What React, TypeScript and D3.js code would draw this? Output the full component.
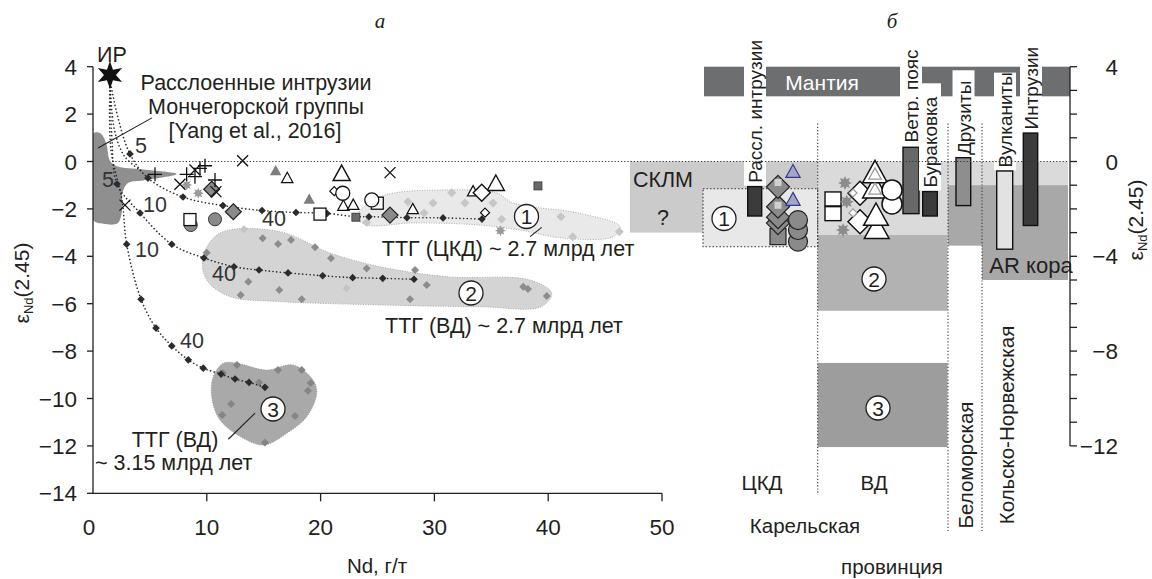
import React from 'react';
import * as d3 from 'd3';

// ---------- Left panel (а): Nd (ppm) vs eNd(2.45) ----------
const xTicks = [0, 10, 20, 30, 40, 50];
const yTicksLeft = [4, 2, 0, -2, -4, -6, -8, -10, -12, -14];
const yTicksRight = [4, 3, 2, 1, 0, -1, -2, -3, -4, -5, -6, -7, -8, -9, -10, -11, -12];
const yLabelsRight = [4, 0, -4, -8, -12];

const irStar = [1.49, 3.65];

const mixCurveA = [[1.49, 3.44], [2.2, 1.84], [3.25, 0.32], [4.83, -0.7], [7.91, -1.5], [11.42, -1.86], [14.85, -2.07], [17.84, -2.15], [20.56, -2.19], [23.1, -2.33], [24.25, -2.33], [27.59, -2.37], [30.76, -2.38], [34.18, -2.43]];
const mixCurveB = [[1.49, 3.44], [1.67, 0.91], [2.11, -0.95], [4.13, -2.17], [6.92, -3.49], [9.75, -4.07], [12.39, -4.44], [14.59, -4.58], [17.14, -4.7], [20.18, -4.82], [22.82, -4.9], [25.46, -4.93], [28.21, -4.97]];
const mixCurveC = [[1.49, 3.44], [1.58, 0.49], [2.55, -1.62], [2.96, -3.49], [4.22, -5.81], [5.54, -7.03], [6.92, -7.78], [8.37, -8.37], [9.69, -8.72], [11.25, -8.97], [12.48, -9.18], [13.71, -9.32], [15.11, -9.53]];
const mixCurveD = [[1.49, 3.44], [1.9, 1.3], [2.8, 0.2], [4.4, -0.45]];

const monchArea = [[0.03, 1.19], [0.65, 1.19], [1.15, 0.78], [1.5, 0.02], [2.1, -0.2], [4.42, -0.34], [7.35, -0.53], [4.42, -0.8], [3.1, -0.9], [2.6, -1.3], [2.55, -2.1], [2.15, -2.61], [0.91, -2.63], [0.03, -2.47]];
const ttg1Area = [[23.17, -2.33], [25.22, -1.49], [31.08, -1.2], [35.47, -1.33], [36.91, -1.75], [42.79, -2.19], [46.31, -2.75], [45.69, -3.17], [41.3, -3.23], [37.52, -2.89], [34.01, -2.68], [28.12, -2.59], [24.08, -2.68]];
const ttg2Area = [[9.67, -4.02], [11.16, -3.02], [16.43, -2.96], [20.83, -3.86], [25.22, -4.44], [31.08, -4.86], [38.4, -5.0], [40.31, -5.56], [39.37, -6.13], [34.09, -6.13], [25.22, -6.05], [16.43, -5.91], [12.04, -5.7], [9.99, -5.0]];
const ttg3Area = [[11.45, -8.51], [12.63, -8.51], [15.26, -8.8], [17.6, -8.59], [19.33, -9.22], [19.66, -9.78], [18.78, -10.77], [17.02, -11.47], [15.11, -11.96], [13.5, -11.75], [11.16, -10.91], [10.43, -9.92], [10.57, -9.08]];

const ttg1Pts = [[31.52, -1.32], [32.69, -1.75], [29.88, -1.75], [29.09, -2.17], [27.68, -1.7], [24.05, -2.57], [35.15, -1.75], [35.91, -2.44], [41.12, -2.33], [42.15, -3.17], [46.25, -2.96]];
const ttg2Pts = [[14.91, -3.24], [16.26, -3.48], [17.4, -3.31], [19.51, -3.62], [20.91, -4.08], [24.05, -4.51], [28.3, -4.58], [29.32, -5.21], [27.86, -5.81], [37.81, -5.28], [38.22, -5.38], [39.87, -5.68], [18.34, -5.81], [16.37, -5.42], [13.65, -5.07], [12.98, -5.63], [9.99, -3.85]];
const ttg2LightPts = [[13.27, -2.86], [22.29, -5.35]];
const ttg3Pts = [[11.42, -8.92], [12.65, -8.59], [14.59, -9.33], [16.26, -8.8], [18.34, -8.8], [19.13, -9.35], [18.89, -9.67], [12.13, -10.23], [11.36, -10.7], [17.75, -10.74], [15.11, -11.86]];

const plusPts = [[5.45, -0.54], [8.23, -0.54], [8.96, -0.64], [9.4, -0.29], [9.84, -0.18], [10.72, -0.78]];
const crossPts = [[13.15, 0.03], [7.64, -0.96], [8.96, -0.36], [10.8, -1.27], [2.81, -1.84], [26.1, -0.47]];
const gearPts = [[8.23, -0.99], [9.25, -1.34], [35.8, -2.92]];
const greyDiamondPts = [[10.43, -1.17], [12.33, -2.12], [26.1, -2.26]];
const greyCirclePts = [[10.72, -2.44], [8.59, -2.68]];
const greyTrianglePts = [[16.05, -0.4], [19.0, -1.6]];
const openTriSmallPts = [[17.07, -0.71], [22.0, -1.88], [22.87, -1.84], [28.1, -2.02], [33.4, -1.27]];
const openTriLargePts = [[21.85, -0.53], [35.4, -0.95]];
const openCirclePts = [[21.95, -1.34], [24.5, -1.62]];
const openSquarePts = [[8.52, -2.45], [19.95, -2.22], [24.98, -1.76]];
const openDiamondLargePts = [[34.16, -1.32]];
const openDiamondSmallPts = [[34.45, -2.16], [21.2, -1.25]];
const darkSquarePts = [[39.1, -1.03], [23.1, -2.35]];

// ---------- Right panel (б): provinces, eNd(2.45) ----------
// u = horizontal position inside panel б (0..440)
const rpBoxes = [
  { name: 'sclm', u0: 0, u1: 187.7, e0: 0, e1: -3.0 },
  { name: 'vdTop', u0: 187.7, u1: 438, e0: 0, e1: -3.1 },
  { name: 'ttg2', u0: 187.7, u1: 317.5, e0: -3.1, e1: -6.3 },
  { name: 'ttg3', u0: 187.7, u1: 317.5, e0: -8.5, e1: -12.05 },
  { name: 'arBel', u0: 318, u1: 352, e0: -1.0, e1: -3.55 },
  { name: 'arKola', u0: 352, u1: 438, e0: -1.0, e1: -5.0 },
  { name: 'ttg1', u0: 73, u1: 187.7, e0: -1.15, e1: -3.6 },
];
const mantle = { u0: 74, u1: 440, e0: 4, e1: 2.75 };
const rpBars = [
  { name: 'Рассл. интрузии', u0: 117.7, u1: 131.7, e0: -1.06, e1: -2.3, tone: 'dark', labelU: 125, labelE: -0.9, labelTop: 5.2 },
  { name: 'Ветр. пояс', u0: 273, u1: 289, e0: 0.6, e1: -2.2, tone: 'mid', labelU: 281, labelE: 0.8, labelTop: 4.9 },
  { name: 'Бураковка', u0: 292.7, u1: 307.3, e0: -1.27, e1: -2.3, tone: 'dark', labelU: 300, labelE: -1.1, labelTop: 3.3 },
  { name: 'Друзиты', u0: 326, u1: 340.7, e0: 0.16, e1: -1.86, tone: 'grey', labelU: 333.5, labelE: 0.27, labelTop: 3.85 },
  { name: 'Вулканиты', u0: 366.7, u1: 382.7, e0: -0.4, e1: -3.7, tone: 'light', labelU: 375, labelE: -0.25, labelTop: 3.75 },
  { name: 'Интрузии', u0: 393.3, u1: 407.7, e0: 1.2, e1: -2.7, tone: 'dark', labelU: 401, labelE: 1.35, labelTop: 4.9 },
];
const rpDividers = [187.7, 318, 352];

const rpGreySquare = [[148, -3.17]];
const rpGreyDiamonds = [[148, -2.6], [148, -2.35], [148, -1.91], [148, -1.07]];
const rpDiamondInnerSquares = [[148, -1.91], [148, -0.95]];
const rpGreyCircles = [[168, -3.38], [168, -2.89], [168, -2.47]];
const rpBlueTriangles = [[163, -0.44], [163, -1.62]];
const rpOpenSquares = [[203, -1.58], [203, -2.2]];
const rpGears = [[215, -0.91], [216.7, -1.7], [213, -2.89]];
const rpOpenDiamonds = [[230, -1.34], [230, -2.54]];
const rpSmallDiamonds = [[223, -1.33], [223, -2.17]];
const rpOpenTriangles = [[246.7, -2.85], [246, -2.3], [245, -1.14], [245, -0.5]];
const rpInnerTriangles = [[245, -0.5], [245, -1.14]];
const rpOpenCircles = [[262, -1.79], [262, -1.2]];

const FONT = "'Liberation Sans', Arial, Helvetica, sans-serif";
const INK = '#231f20';
const FS = 21.5;   // annotation font
const FT = 22.5;   // tick font

function diamond(cx: number, cy: number, r: number) {
  return `M${cx},${cy - r}L${cx + r},${cy}L${cx},${cy + r}L${cx - r},${cy}Z`;
}
function tri(cx: number, cy: number, r: number) {
  return `M${cx},${cy - r}L${cx + r * 0.95},${cy + r * 0.72}L${cx - r * 0.95},${cy + r * 0.72}Z`;
}
function starPath(cx: number, cy: number, n: number, ro: number, ri: number) {
  const pts: string[] = [];
  for (let i = 0; i < n * 2; i++) {
    const r = i % 2 === 0 ? ro : ri;
    const a = (Math.PI * i) / n - Math.PI / 2;
    pts.push(`${cx + r * Math.cos(a)},${cy + r * Math.sin(a)}`);
  }
  return 'M' + pts.join('L') + 'Z';
}

function Circled({ cx, cy, t }: { cx: number; cy: number; t: string }) {
  return (
    <g>
      <circle cx={cx} cy={cy} r={12} fill="#fff" stroke={INK} strokeWidth={1.3} />
      <text x={cx} y={cy + 7.5} textAnchor="middle" fontSize={21} fontFamily={FONT} fill={INK}>{t}</text>
    </g>
  );
}

function EpsLabel({ x, y }: { x: number; y: number }) {
  return (
    <text transform={`translate(${x},${y}) rotate(-90)`} textAnchor="middle" fontSize={21} fontFamily={FONT} fill={INK}>
      ε<tspan fontSize={13} dy={4}>Nd</tspan><tspan dy={-4}>(2.45)</tspan>
    </text>
  );
}

export default function App() {
  const x = d3.scaleLinear().domain([0, 50]).range([93, 662]);
  const y = d3.scaleLinear().domain([4, -14]).range([66.7, 493.3]);
  const xr = d3.scaleLinear().domain([0, 440]).range([630, 1070]);

  const curve = d3.line<number[]>().x(d => x(d[0])).y(d => y(d[1])).curve(d3.curveCatmullRom.alpha(0.5));
  const blob = d3.line<number[]>().x(d => x(d[0])).y(d => y(d[1])).curve(d3.curveCatmullRomClosed.alpha(0.5));

  const boxFill: Record<string, string> = {
    sclm: '#cbcbcb', vdTop: '#dadada', ttg2: '#b2b2b2', ttg3: '#9d9d9d', arBel: '#a8a8a8', arKola: '#a8a8a8', ttg1: '#e8e8e8',
  };
  const barFill: Record<string, string> = { dark: '#3b3b3b', mid: '#686868', grey: '#8e8e8e', light: '#e2e2e2' };

  const mixMarkers = [...mixCurveA.slice(2), ...mixCurveB.slice(2), ...mixCurveC.slice(3)];

  return (
    <svg width={1152} height={579} viewBox="0 0 1152 579" style={{ position: 'absolute', left: 0, top: 0, background: '#fff' }}>
      <defs>
        <clipPath id="plotL"><rect x={93} y={40} width={600} height={454} /></clipPath>
      </defs>
      <rect x={0} y={0} width={1152} height={579} fill="#fff" />

      {/* titles */}
      <text x={380} y={28} textAnchor="middle" fontSize={21} fontStyle="italic" fontFamily="'Liberation Serif', 'DejaVu Serif', serif" fill={INK}>а</text>
      <text x={892} y={28} textAnchor="middle" fontSize={21} fontStyle="italic" fontFamily="'Liberation Serif', 'DejaVu Serif', serif" fill={INK}>б</text>

      {/* ---------------- panel б ---------------- */}
      {rpBoxes.map(b => (
        <rect key={b.name} x={xr(b.u0)} y={y(b.e0)} width={xr(b.u1) - xr(b.u0)} height={y(b.e1) - y(b.e0)} fill={boxFill[b.name]}
          stroke={b.name === 'ttg1' ? '#333' : 'none'} strokeWidth={1.1} strokeDasharray={b.name === 'ttg1' ? '1.5,2' : undefined} />
      ))}
      <rect x={xr(mantle.u0)} y={y(mantle.e0)} width={xr(mantle.u1) - xr(mantle.u0)} height={y(mantle.e1) - y(mantle.e0)} fill="#6d6e70" />
      <text x={822} y={90} textAnchor="middle" fontSize={21} fontFamily={FONT} fill="#fff">Мантия</text>

      {rpDividers.map(u => (
        <line key={u} x1={xr(u)} x2={xr(u)} y1={y(1.6)} y2={u === 187.7 ? 495 : 531} stroke="#333" strokeWidth={1.1} strokeDasharray="1.2,2" />
      ))}

      {/* bars and their labels */}
      {rpBars.map(b => (
        <g key={b.name}>
          <rect x={xr(b.labelU) - 11} y={y(b.labelTop)} width={22} height={y(b.labelE) - y(b.labelTop) + 3} fill="#fff" />
          <text transform={`translate(${xr(b.labelU) + 7},${y(b.labelE)}) rotate(-90)`} fontSize={19} fontFamily={FONT} fill={INK}>{b.name}</text>
          <rect x={xr(b.u0)} y={y(b.e0)} width={xr(b.u1) - xr(b.u0)} height={y(b.e1) - y(b.e0)} fill={barFill[b.tone]} stroke="#111" strokeWidth={1.4} />
        </g>
      ))}

      {/* zero line */}
      <line x1={x(0)} x2={xr(438)} y1={y(0)} y2={y(0)} stroke="#333" strokeWidth={1.1} strokeDasharray="1.2,2" />

      {/* panel б symbols */}
      {rpGreySquare.map((d, i) => <rect key={'gs' + i} x={xr(d[0]) - 8} y={y(d[1]) - 8} width={16} height={16} fill="#8a8a8a" stroke="#222" strokeWidth={1.2} />)}
      {rpGreyDiamonds.map((d, i) => <path key={'gd' + i} d={diamond(xr(d[0]), y(d[1]), 11.5)} fill="#8a8a8a" stroke="#222" strokeWidth={1.2} />)}
      {rpDiamondInnerSquares.map((d, i) => <rect key={'gq' + i} x={xr(d[0]) - 3.5} y={y(d[1]) - 5} width={7} height={7} fill="#d0d0d0" />)}
      {rpGreyCircles.map((d, i) => <circle key={'gc' + i} cx={xr(d[0])} cy={y(d[1])} r={9.5} fill="#8a8a8a" stroke="#222" strokeWidth={1.2} />)}
      {rpBlueTriangles.map((d, i) => <path key={'bt' + i} d={tri(xr(d[0]), y(d[1]), 7.5)} fill="#a3a6c6" stroke="#34388a" strokeWidth={1.2} />)}
      {rpOpenSquares.map((d, i) => <rect key={'os' + i} x={xr(d[0]) - 8} y={y(d[1]) - 7} width={16} height={14} fill="#fff" stroke="#111" strokeWidth={1.4} />)}
      {rpGears.map((d, i) => <path key={'ge' + i} d={starPath(xr(d[0]), y(d[1]), 8, 7, 4)} fill="#8c8c8c" />)}
      {rpOpenDiamonds.map((d, i) => <path key={'od' + i} d={diamond(xr(d[0]), y(d[1]), 12)} fill="#fff" stroke="#111" strokeWidth={1.5} />)}
      {rpSmallDiamonds.map((d, i) => <path key={'sd' + i} d={diamond(xr(d[0]), y(d[1]), 4)} fill="#fff" stroke="#999" strokeWidth={1.2} />)}
      {rpOpenTriangles.map((d, i) => <path key={'ot' + i} d={tri(xr(d[0]), y(d[1]), 13)} fill="#fff" stroke="#111" strokeWidth={1.5} />)}
      {rpInnerTriangles.map((d, i) => <path key={'it' + i} d={tri(xr(d[0]), y(d[1]) + 1, 6.5)} fill="none" stroke="#999" strokeWidth={1.3} />)}
      {rpOpenCircles.map((d, i) => <circle key={'oc' + i} cx={xr(d[0])} cy={y(d[1])} r={10} fill="#fff" stroke="#111" strokeWidth={1.5} />)}

      {/* panel б texts */}
      <text x={663} y={187} textAnchor="middle" fontSize={FS} fontFamily={FONT} fill={INK}>СКЛМ</text>
      <text x={663} y={225} textAnchor="middle" fontSize={FS} fontFamily={FONT} fill={INK}>?</text>
      <Circled cx={724} cy={218.5} t="1" />
      <Circled cx={874} cy={279} t="2" />
      <Circled cx={878} cy={408} t="3" />
      <text x={1031} y={273} textAnchor="middle" fontSize={22} fontFamily={FONT} fill={INK}>AR кора</text>
      <text x={762} y={490} textAnchor="middle" fontSize={20.5} fontFamily={FONT} fill={INK}>ЦКД</text>
      <text x={874} y={490} textAnchor="middle" fontSize={20.5} fontFamily={FONT} fill={INK}>ВД</text>
      <text x={805} y={533} textAnchor="middle" fontSize={20.5} fontFamily={FONT} fill={INK}>Карельская</text>
      <text x={892} y={574} textAnchor="middle" fontSize={20.5} fontFamily={FONT} fill={INK}>провинция</text>
      <text transform="translate(973,465) rotate(-90)" textAnchor="middle" fontSize={20.5} fontFamily={FONT} fill={INK}>Беломорская</text>
      <text transform="translate(1014,425) rotate(-90)" textAnchor="middle" fontSize={20.5} fontFamily={FONT} fill={INK}>Кольско-Норвежская</text>

      {/* right axis */}
      <line x1={1070} x2={1070} y1={y(4)} y2={y(-12)} stroke={INK} strokeWidth={1.3} />
      {yTicksRight.map(t => <line key={t} x1={1070} x2={1077} y1={y(t)} y2={y(t)} stroke={INK} strokeWidth={1.3} />)}
      {yLabelsRight.map(t => (
        <text key={t} x={1118} y={y(t) + 8} textAnchor="end" fontSize={FT} fontFamily={FONT} fill={INK}>{t < 0 ? '−' + Math.abs(t) : String(t)}</text>
      ))}
      <EpsLabel x={1143} y={220} />

      {/* ---------------- panel а ---------------- */}
      <g clipPath="url(#plotL)">
        <path d={blob(monchArea) || ''} fill="#8f8f8f" />
      </g>
      <path d={blob(ttg1Area) || ''} fill="#e9e9e9" stroke="#aaa" strokeWidth={1} strokeDasharray="1,1.5" />
      <path d={blob(ttg2Area) || ''} fill="#d4d4d4" stroke="#aaa" strokeWidth={1} strokeDasharray="1,1.5" />
      <path d={blob(ttg3Area) || ''} fill="#a9a9a9" stroke="#999" strokeWidth={1} strokeDasharray="1,1.5" />

      {ttg1Pts.map((d, i) => <path key={'t1' + i} d={diamond(x(d[0]), y(d[1]), 4.5)} fill="#c6c6c6" />)}
      {ttg2Pts.map((d, i) => <path key={'t2' + i} d={diamond(x(d[0]), y(d[1]), 4)} fill="#8c8c8c" />)}
      {ttg2LightPts.map((d, i) => <path key={'t2l' + i} d={diamond(x(d[0]), y(d[1]), 4)} fill="#c4c4c4" />)}
      {ttg3Pts.map((d, i) => <path key={'t3' + i} d={diamond(x(d[0]), y(d[1]), 4)} fill="#858585" />)}

      {/* mixing curves */}
      {[mixCurveA, mixCurveB, mixCurveC, mixCurveD].map((c, i) => (
        <path key={'mc' + i} d={curve(c) || ''} fill="none" stroke="#2b2b2b" strokeWidth={1.6} strokeDasharray="0.1,3.6" strokeLinecap="round" />
      ))}
      {mixMarkers.map((d, i) => <path key={'mm' + i} d={diamond(x(d[0]), y(d[1]), 3.8)} fill="#2b2b2b" />)}

      {/* scatter symbols */}
      {greyCirclePts.map((d, i) => <circle key={'gcl' + i} cx={x(d[0])} cy={y(d[1])} r={6.5} fill="#8a8a8a" stroke="#333" strokeWidth={1} />)}
      {openSquarePts.map((d, i) => <rect key={'osl' + i} x={x(d[0]) - 6} y={y(d[1]) - 6} width={12} height={12} fill="#fff" stroke="#111" strokeWidth={1.3} />)}
      {greyDiamondPts.map((d, i) => <path key={'gdl' + i} d={diamond(x(d[0]), y(d[1]), 8)} fill="#8a8a8a" stroke="#222" strokeWidth={1.2} />)}
      {gearPts.map((d, i) => <path key={'gel' + i} d={starPath(x(d[0]), y(d[1]), 8, 5.5, 3)} fill="#9a9a9a" />)}
      {greyTrianglePts.map((d, i) => <path key={'gtl' + i} d={tri(x(d[0]), y(d[1]), 6)} fill="#7d7d7d" />)}
      {openTriSmallPts.map((d, i) => <path key={'ots' + i} d={tri(x(d[0]), y(d[1]), 6)} fill="#fff" stroke="#111" strokeWidth={1.2} />)}
      {openTriLargePts.map((d, i) => <path key={'otl' + i} d={tri(x(d[0]), y(d[1]), 9)} fill="#fff" stroke="#111" strokeWidth={1.4} />)}
      {openDiamondSmallPts.map((d, i) => <path key={'ods' + i} d={diamond(x(d[0]), y(d[1]), 4.5)} fill="#fff" stroke="#111" strokeWidth={1.2} />)}
      {openCirclePts.map((d, i) => <circle key={'ocl' + i} cx={x(d[0])} cy={y(d[1])} r={7} fill="#fff" stroke="#111" strokeWidth={1.3} />)}
      {openDiamondLargePts.map((d, i) => <path key={'odl' + i} d={diamond(x(d[0]), y(d[1]), 8.5)} fill="#fff" stroke="#111" strokeWidth={1.4} />)}
      {darkSquarePts.map((d, i) => <rect key={'dsl' + i} x={x(d[0]) - 4} y={y(d[1]) - 4} width={8} height={8} fill="#6a6a6a" stroke="#333" strokeWidth={0.8} />)}
      {plusPts.map((d, i) => (
        <path key={'pl' + i} d={`M${x(d[0]) - 7},${y(d[1])}H${x(d[0]) + 7}M${x(d[0])},${y(d[1]) - 7}V${y(d[1]) + 7}`} stroke="#111" strokeWidth={1.3} />
      ))}
      {crossPts.map((d, i) => (
        <path key={'cr' + i} d={`M${x(d[0]) - 5.5},${y(d[1]) - 5.5}L${x(d[0]) + 5.5},${y(d[1]) + 5.5}M${x(d[0]) - 5.5},${y(d[1]) + 5.5}L${x(d[0]) + 5.5},${y(d[1]) - 5.5}`} stroke="#111" strokeWidth={1.3} />
      ))}

      {/* IR star */}
      <path d={starPath(x(irStar[0]), y(irStar[1]), 6, 14, 6)} fill="#111" />
      <text x={112} y={62} textAnchor="middle" fontSize={FS} fontFamily={FONT} fill={INK}>ИР</text>

      {/* curve labels */}
      {[[135, 153, '5'], [102, 187, '5'], [143, 212, '10'], [135, 257, '10'], [262, 226, '40'], [212, 281, '40'], [180, 348, '40']].map((l, i) => (
        <text key={'cl' + i} x={l[0] as number} y={l[1] as number} fontSize={FS} fontFamily={FONT} fill="#333">{l[2]}</text>
      ))}

      {/* annotations */}
      <line x1={x(0.44)} y1={y(0.57)} x2={x(5.18)} y2={y(1.84)} stroke={INK} strokeWidth={1.1} />
      <text x={256} y={90} textAnchor="middle" fontSize={FS} fontFamily={FONT} fill={INK}>Расслоенные интрузии</text>
      <text x={256} y={114} textAnchor="middle" fontSize={FS} fontFamily={FONT} fill={INK}>Мончегорской группы</text>
      <text x={255} y={138} textAnchor="middle" fontSize={FS} fontFamily={FONT} fill={INK}>[Yang et al., 2016]</text>

      <line x1={x(38.4)} y1={y(-3.17)} x2={x(39.43)} y2={y(-2.78)} stroke={INK} strokeWidth={1.1} />
      <Circled cx={526.5} cy={216.5} t="1" />
      <text x={508} y={256} textAnchor="middle" fontSize={FS} fontFamily={FONT} fill={INK}>ТТГ (ЦКД) ~ 2.7 млрд лет</text>
      <Circled cx={471} cy={293} t="2" />
      <text x={504} y={333} textAnchor="middle" fontSize={FS} fontFamily={FONT} fill={INK}>ТТГ (ВД) ~ 2.7 млрд лет</text>
      <line x1={x(14.24)} y1={y(-10.62)} x2={x(11.89)} y2={y(-11.72)} stroke={INK} strokeWidth={1.1} />
      <Circled cx={273} cy={409} t="3" />
      <text x={175} y={447} textAnchor="middle" fontSize={FS} fontFamily={FONT} fill={INK}>ТТГ (ВД)</text>
      <text x={95} y={470} fontSize={FS} fontFamily={FONT} fill={INK}>~ 3.15 млрд лет</text>

      {/* left axes */}
      <line x1={93} x2={93} y1={y(4)} y2={y(-14)} stroke={INK} strokeWidth={1.3} />
      <line x1={93} x2={x(50)} y1={y(-14)} y2={y(-14)} stroke={INK} strokeWidth={1.3} />
      {yTicksLeft.map(t => (
        <g key={'yl' + t}>
          <line x1={87} x2={93} y1={y(t)} y2={y(t)} stroke={INK} strokeWidth={1.3} />
          <text x={77} y={y(t) + 8} textAnchor="end" fontSize={FT} fontFamily={FONT} fill={INK}>{t < 0 ? '−' + Math.abs(t) : String(t)}</text>
        </g>
      ))}
      {xTicks.map(t => (
        <g key={'xl' + t}>
          {t > 0 && <line x1={x(t)} x2={x(t)} y1={y(-14)} y2={y(-14) + 8} stroke={INK} strokeWidth={1.3} />}
          <text x={x(t) - (t === 0 ? 4 : 0)} y={535} textAnchor="middle" fontSize={FT} fontFamily={FONT} fill={INK}>{t}</text>
        </g>
      ))}
      <text x={377} y={573} textAnchor="middle" fontSize={20.5} fontFamily={FONT} fill={INK}>Nd, г/т</text>
      <EpsLabel x={29} y={283} />
    </svg>
  );
}
